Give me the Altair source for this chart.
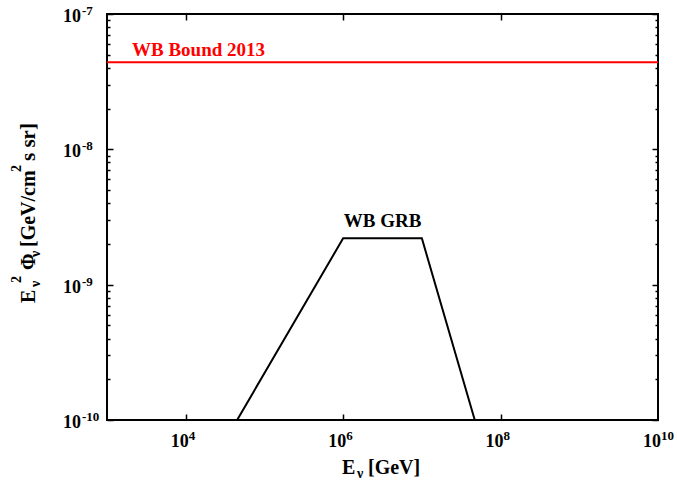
import altair as alt
import pandas as pd

# ---- data ----
grb_energy = [4.5e4, 1e6, 1e7, 4.7e7]
grb_flux = [1e-10, 2.2e-9, 2.2e-9, 1e-10]
bound_energy = [1e3, 1e10]
bound_flux = [4.4e-8, 4.4e-8]

x_major = [1e4, 1e6, 1e8]
x_label_values = [1e4, 1e6, 1e8, 1e10]
x_label_exps = ["4", "6", "8", "10"]
y_major = [1e-10, 1e-9, 1e-8, 1e-7]
y_label_exps = ["-10", "-9", "-8", "-7"]
minor_mult = [2, 3, 4, 5, 6, 7, 8, 9]
y_minor = [m * 10.0 ** d for d in (-10, -9, -8) for m in minor_mult]

bound_label = ["WB Bound 2013"]
grb_label = ["WB GRB"]

xtitle_text = ["E", "ν", "[GeV]"]
ytitle_text = ["E", "ν", "2", "Φ", "ν", "[GeV/cm", "2", "s sr]"]

FONT = "Liberation Serif"
BIG = 20
SMALL = 14

xs = alt.Scale(type="log", domain=[1e3, 1e10], nice=False)
ys = alt.Scale(type="log", domain=[1e-10, 1e-7], nice=False)


def tick_axis(orient, values, size):
    return alt.Axis(orient=orient, values=values, offset=-size, tickSize=size,
                    tickWidth=1.5, tickColor="black", labels=False, domain=False,
                    grid=False, title=None)


grb_df = pd.DataFrame({"E": grb_energy, "F": grb_flux})
bound_df = pd.DataFrame({"E": bound_energy, "F": bound_flux})

grb = alt.Chart(grb_df).mark_line(color="black", strokeWidth=2).encode(
    x=alt.X("E:Q", scale=xs, axis=tick_axis("bottom", x_major, 6)),
    y=alt.Y("F:Q", scale=ys, axis=tick_axis("left", y_major, 6)),
)
bound = alt.Chart(bound_df).mark_line(color="#ff0000", strokeWidth=2).encode(
    x=alt.X("E:Q", scale=xs, axis=tick_axis("top", x_major, 6)),
    y=alt.Y("F:Q", scale=ys, axis=tick_axis("right", y_major, 6)),
)

bound_text = alt.Chart(pd.DataFrame({"t": bound_label, "E": [bound_energy[0]], "F": [bound_flux[0]]})).mark_text(
    align="left", baseline="alphabetic", dx=25, dy=-6, font=FONT, fontSize=19,
    fontWeight="bold", color="#ff0000").encode(
    x=alt.X("E:Q", scale=xs, axis=None),
    y=alt.Y("F:Q", scale=ys, axis=tick_axis("left", y_minor, 3)),
    text="t:N",
)
grb_text = alt.Chart(pd.DataFrame({"t": grb_label, "E": [10 ** 6.5], "F": [grb_flux[1]]})).mark_text(
    align="center", baseline="alphabetic", dy=-11, font=FONT, fontSize=19,
    fontWeight="bold", color="black").encode(
    x=alt.X("E:Q", scale=xs, axis=None),
    y=alt.Y("F:Q", scale=ys, axis=tick_axis("right", y_minor, 3)),
    text="t:N",
)

ylab_df = pd.DataFrame({"F": y_major, "base": ["10"] * len(y_major), "exp": y_label_exps})
ylab_base = alt.Chart(ylab_df).mark_text(
    align="right", baseline="alphabetic", dx=-26, dy=8, font=FONT, fontSize=18,
    fontWeight="bold", color="black").encode(
    x=alt.XDatum(1e3, scale=xs, axis=None),
    y=alt.Y("F:Q", scale=ys, axis=None), text="base:N")
ylab_exp = alt.Chart(ylab_df).mark_text(
    align="left", baseline="alphabetic", dx=-25, dy=1, font=FONT, fontSize=13,
    fontWeight="bold", color="black").encode(
    x=alt.XDatum(1e3, scale=xs, axis=None),
    y=alt.Y("F:Q", scale=ys, axis=None), text="exp:N")

xlab_df = pd.DataFrame({"E": x_label_values, "base": ["10"] * len(x_label_values), "exp": x_label_exps})
xlab_base = alt.Chart(xlab_df).mark_text(
    align="right", baseline="alphabetic", dx=3, dy=27, font=FONT, fontSize=18,
    fontWeight="bold", color="black").encode(
    x=alt.X("E:Q", scale=xs, axis=None),
    y=alt.YDatum(1e-10, scale=ys, axis=None), text="base:N")
xlab_exp = alt.Chart(xlab_df).mark_text(
    align="left", baseline="alphabetic", dx=3, dy=20, font=FONT, fontSize=13,
    fontWeight="bold", color="black").encode(
    x=alt.X("E:Q", scale=xs, axis=None),
    y=alt.YDatum(1e-10, scale=ys, axis=None), text="exp:N")


def piece(text, dx, dy, size, angle=0):
    return alt.Chart(pd.DataFrame({"t": [text]})).mark_text(
        align="left", baseline="alphabetic", dx=dx, dy=dy, angle=angle, font=FONT,
        fontSize=size, fontWeight="bold", color="black").encode(
        x=alt.XDatum(1e3, scale=xs, axis=None),
        y=alt.YDatum(1e-10, scale=ys, axis=None), text="t:N")


xtitle = [
    piece(xtitle_text[0], 235, 54, BIG),
    piece(xtitle_text[1], 250, 58, SMALL),
    piece(xtitle_text[2], 261, 54, BIG),
]
ytitle_off = [(117, -72, BIG), (133, -67, SMALL), (137, -86, SMALL), (150, -72, BIG),
              (163, -67, SMALL), (173, -72, BIG), (248, -86, SMALL), (259, -72, 21)]
ytitle = [piece(t, o[0], o[1], o[2], angle=270) for t, o in zip(ytitle_text, ytitle_off)]

chart = alt.layer(
    grb, bound, bound_text, grb_text, ylab_base, ylab_exp, xlab_base, xlab_exp,
    *xtitle, *ytitle
).properties(
    width=551, height=406,
    padding={"left": 107, "top": 14, "right": 19, "bottom": 65},
    autosize=alt.AutoSizeParams(type="none"),
).resolve_axis(x="independent", y="independent").configure_view(
    stroke="black", strokeWidth=2
)

chart.save("out.html", embed_options={"renderer": "svg", "actions": False})
